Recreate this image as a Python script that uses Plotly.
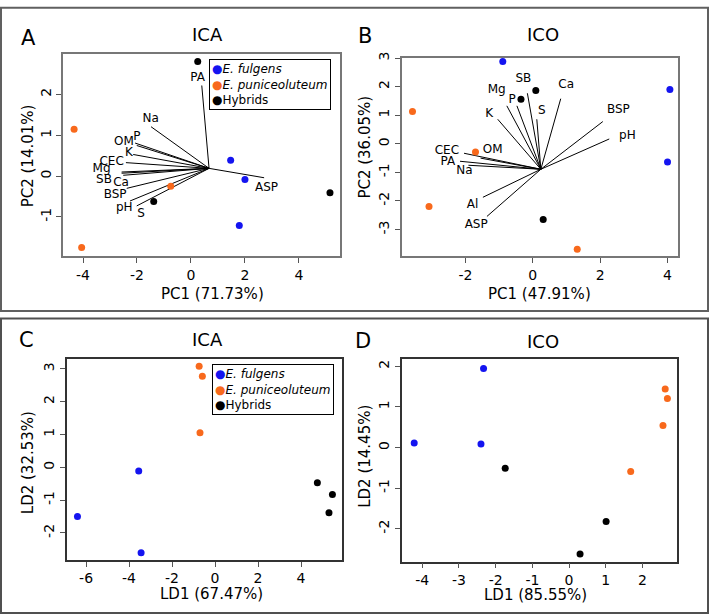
import plotly.graph_objects as go

FONT = "DejaVu Sans"
BLUE = "#1414F0"
ORANGE = "#F8691C"
BLACK = "#000000"

# ---- A : PCA ICA
a_fulgens_x = [1.47, 2.00, 1.79]
a_fulgens_y = [0.39, -0.08, -1.21]
a_puni_x = [-4.33, -4.05, -0.75]
a_puni_y = [1.15, -1.75, -0.25]
a_hyb_x = [0.25, -1.38, 5.15]
a_hyb_y = [2.81, -0.62, -0.41]
a_origin = [0.67, 0.19]
a_vars = ["PA", "Na", "OM", "P", "K", "CEC", "Mg", "SB", "Ca", "BSP", "pH", "S", "ASP"]
a_tip_x = [0.40, -1.48, -2.07, -2.01, -2.14, -2.41, -2.57, -2.57, -2.51, -2.38, -2.26, -2.01, 2.71]
a_tip_y = [2.22, 1.21, 0.81, 0.75, 0.53, 0.33, 0.10, 0.07, 0.02, -0.30, -0.61, -0.73, -0.04]
a_lab_x = [0.25, -1.49, -2.48, -2.00, -2.30, -2.94, -3.31, -3.22, -2.59, -2.81, -2.47, -1.85, 2.80]
a_lab_y = [2.40, 1.41, 0.83, 0.95, 0.56, 0.35, 0.17, -0.10, -0.16, -0.46, -0.78, -0.92, -0.28]

# ---- B : PCA ICO
b_fulgens_x = [-0.89, 4.07, 4.00]
b_fulgens_y = [2.88, 1.90, -0.64]
b_puni_x = [-3.57, -1.70, -3.08, 1.32]
b_puni_y = [1.13, -0.29, -2.19, -3.69]
b_hyb_x = [0.09, -0.35, 0.31]
b_hyb_y = [1.87, 1.56, -2.65]
b_origin = [0.24, -0.89]
b_vars = ["Ca", "SB", "Mg", "P", "S", "K", "BSP", "pH", "CEC", "OM", "PA", "Na", "Al", "ASP"]
b_tip_x = [0.83, -0.16, -0.77, -0.47, 0.12, -1.04, 2.08, 2.27, -2.04, -1.55, -2.16, -1.91, -1.48, -1.36]
b_tip_y = [1.58, 1.77, 1.33, 1.33, 0.86, 0.86, 0.78, 0.17, -0.33, -0.50, -0.61, -0.75, -1.87, -2.54]
b_lab_x = [0.99, -0.28, -1.07, -0.61, 0.27, -1.29, 2.54, 2.81, -2.55, -1.19, -2.52, -2.03, -1.79, -1.68]
b_lab_y = [2.05, 2.28, 1.88, 1.52, 1.15, 1.04, 1.18, 0.29, -0.25, -0.20, -0.64, -0.95, -2.13, -2.83]

# ---- C : LDA ICA
c_fulgens_x = [-3.55, -6.40, -3.44]
c_fulgens_y = [-0.11, -1.50, -2.60]
c_puni_x = [-0.74, -0.59, -0.70]
c_puni_y = [3.08, 2.77, 1.05]
c_hyb_x = [4.76, 5.46, 5.30]
c_hyb_y = [-0.47, -0.83, -1.38]

# ---- D : LDA ICO
d_fulgens_x = [-2.33, -4.22, -2.40]
d_fulgens_y = [1.95, 0.11, 0.09]
d_puni_x = [1.68, 2.62, 2.68, 2.56]
d_puni_y = [-0.59, 1.44, 1.21, 0.54]
d_hyb_x = [-1.74, 1.01, 0.30]
d_hyb_y = [-0.51, -1.82, -2.62]

fig = go.Figure()


def add_points(ax, groups):
    for xs, ys, col in groups:
        fig.add_trace(go.Scatter(
            x=xs, y=ys, mode="markers", xaxis="x" + ax, yaxis="y" + ax,
            marker=dict(color=col, size=7), showlegend=False, hoverinfo="skip"
        ))


def add_loadings(ax, origin, tip_x, tip_y, lab_x, lab_y, names):
    lx, ly = [], []
    for tx, ty in zip(tip_x, tip_y):
        lx += [origin[0], tx, None]
        ly += [origin[1], ty, None]
    fig.add_trace(go.Scatter(
        x=lx, y=ly, mode="lines", xaxis="x" + ax, yaxis="y" + ax,
        line=dict(color="black", width=1), showlegend=False, hoverinfo="skip"
    ))
    fig.add_trace(go.Scatter(
        x=lab_x, y=lab_y, text=names, mode="text", xaxis="x" + ax, yaxis="y" + ax,
        textfont=dict(family=FONT, size=12, color="black"), showlegend=False, hoverinfo="skip"
    ))


add_loadings("", a_origin, a_tip_x, a_tip_y, a_lab_x, a_lab_y, a_vars)
add_points("", [(a_fulgens_x, a_fulgens_y, BLUE), (a_puni_x, a_puni_y, ORANGE), (a_hyb_x, a_hyb_y, BLACK)])
add_loadings("2", b_origin, b_tip_x, b_tip_y, b_lab_x, b_lab_y, b_vars)
add_points("2", [(b_fulgens_x, b_fulgens_y, BLUE), (b_puni_x, b_puni_y, ORANGE), (b_hyb_x, b_hyb_y, BLACK)])
add_points("3", [(c_fulgens_x, c_fulgens_y, BLUE), (c_puni_x, c_puni_y, ORANGE), (c_hyb_x, c_hyb_y, BLACK)])
add_points("4", [(d_fulgens_x, d_fulgens_y, BLUE), (d_puni_x, d_puni_y, ORANGE), (d_hyb_x, d_hyb_y, BLACK)])


def axis(domain, rng, ticks, anchor, linecol, vertical=False):
    d = dict(
        domain=domain, range=rng, tickvals=ticks, ticktext=[str(t) for t in ticks], anchor=anchor,
        showline=True, mirror=True, linecolor=linecol, linewidth=1.5,
        ticks="outside", ticklen=5, tickcolor="#555", showgrid=False, zeroline=False,
        tickfont=dict(family=FONT, size=14, color="black"),
    )
    if vertical:
        d["tickangle"] = -90
    return d


fig.update_layout(
    width=709, height=614,
    margin=dict(l=0, r=0, t=0, b=0),
    plot_bgcolor="white", paper_bgcolor="white",
    font=dict(family=FONT, color="black"),
    xaxis=axis([0.0889, 0.4795], [-4.74, 5.52], [-4, -2, 0, 2, 4], "y", "#777"),
    yaxis=axis([0.5896, 0.9218], [-1.96, 2.98], [-1, 0, 1, 2], "x", "#777", True),
    xaxis2=axis([0.5666, 0.9567], [-3.89, 4.32], [-2, 0, 2, 4], "y2", "#777"),
    yaxis2=axis([0.5891, 0.9158], [-3.94, 3.0], [-3, -2, -1, 0, 1, 2, 3], "x2", "#777", True),
    xaxis3=axis([0.0941, 0.4828], [-6.9, 5.92], [-6, -4, -2, 0, 2, 4], "y3", "#333"),
    yaxis3=axis([0.0891, 0.4207], [-2.82, 3.31], [-2, -1, 0, 1, 2, 3], "x3", "#333", True),
    xaxis4=axis([0.5666, 0.9553], [-4.56, 2.95], [-4, -3, -2, -1, 0, 1, 2], "y4", "#333"),
    yaxis4=axis([0.0863, 0.4207], [-2.81, 2.19], [-2, -1, 0, 1, 2], "x4", "#333", True),
)

# outer boxes around the two rows
fig.add_shape(type="rect", xref="paper", yref="paper", x0=0.0014, x1=0.9986, y0=0.4992, y1=0.9986,
              line=dict(color="#606060", width=2))
fig.add_shape(type="rect", xref="paper", yref="paper", x0=0.0014, x1=0.9986, y0=0.0016, y1=0.487,
              line=dict(color="#505050", width=2))


def text(x, y, s, size, angle=0):
    fig.add_annotation(x=x, y=y, xref="paper", yref="paper", text=s, showarrow=False,
                       textangle=angle, xanchor="center", yanchor="middle",
                       font=dict(family=FONT, size=size, color="black"))


# panel letters and titles
text(0.040, 0.9484, "A", 21)
text(0.5148, 0.952, "B", 21)
text(0.0376, 0.4511, "C", 21)
text(0.5125, 0.4495, "D", 21)
text(0.2924, 0.9539, "ICA", 18)
text(0.7663, 0.9539, "ICO", 18)
text(0.2924, 0.4516, "ICA", 18)
text(0.7663, 0.449, "ICO", 18)

# axis titles
text(0.300, 0.528, "PC1 (71.73%)", 15)
text(0.0395, 0.754, "PC2 (14.01%)", 15, -90)
text(0.7616, 0.528, "PC1 (47.91%)", 15)
text(0.5148, 0.770, "PC2 (36.05%)", 15, -90)
text(0.2986, 0.033, "LD1 (67.47%)", 15)
text(0.0395, 0.2484, "LD2 (32.53%)", 15, -90)
text(0.7546, 0.031, "LD1 (85.55%)", 15)
text(0.5148, 0.2606, "LD2 (14.45%)", 15, -90)

# legends (R style: dot right before the label)
legend_txt = (f"<span style='color:{BLUE}'>●</span><i>E. fulgens</i><br>"
              f"<span style='color:{ORANGE}'>●</span><i>E. puniceoluteum</i><br>"
              f"<span style='color:{BLACK}'>●</span>Hybrids")
for lx, ly in [(0.2948, 0.9137), (0.2994, 0.412)]:
    fig.add_annotation(x=lx, y=ly, xref="paper", yref="paper", text=legend_txt, showarrow=False,
                       xanchor="left", yanchor="top", align="left",
                       bordercolor="black", borderwidth=1, borderpad=2, bgcolor="white",
                       font=dict(family=FONT, size=12, color="black"))

# no body margin so the 709x614 figure sits flush in the window
fig.write_html("out.html", config={"displayModeBar": False},
               post_script="document.body.style.margin='0';")
